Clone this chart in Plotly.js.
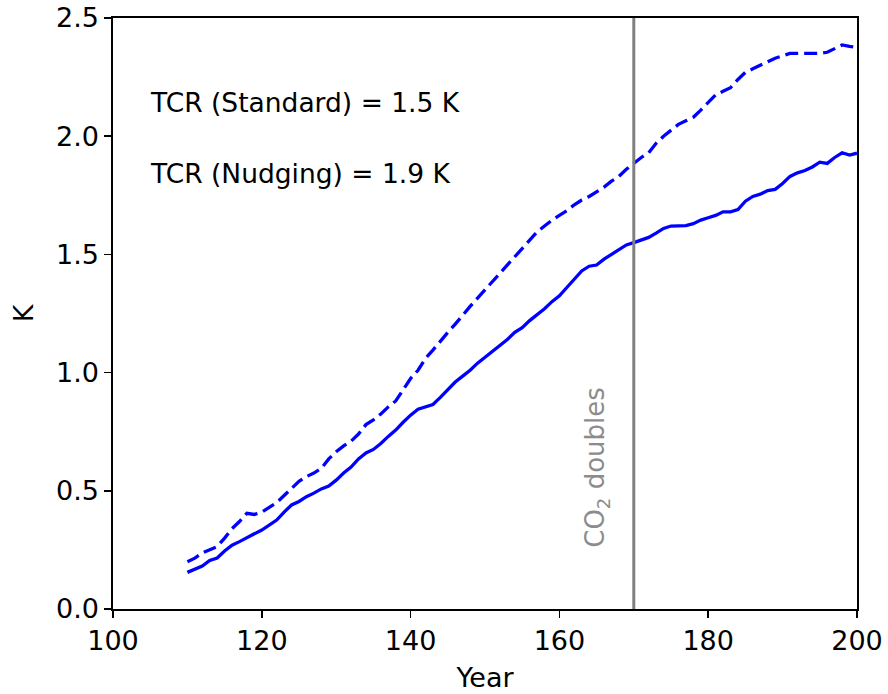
<!DOCTYPE html>
<html>
<head>
<meta charset="utf-8">
<script src="https://cdn.plot.ly/plotly-3.0.1.min.js"></script>
<style>html,body{margin:0;padding:0;background:#fff;}#chart{width:888px;height:694px;}</style>
</head>
<body>
<div id="chart"></div>
<script>
const years = [110,111,112,113,114,115,116,117,118,119,120,121,122,123,124,125,126,127,128,129,130,131,132,133,134,135,136,137,138,139,140,141,142,143,144,145,146,147,148,149,150,151,152,153,154,155,156,157,158,159,160,161,162,163,164,165,166,167,168,169,170,171,172,173,174,175,176,177,178,179,180,181,182,183,184,185,186,187,188,189,190,191,192,193,194,195,196,197,198,199,200];

const standard = [0.155,0.168,0.182,0.205,0.216,0.245,0.27,0.285,0.30,0.318,0.334,0.355,0.376,0.41,0.44,0.455,0.475,0.49,0.508,0.52,0.545,0.575,0.60,0.635,0.66,0.675,0.70,0.73,0.757,0.79,0.82,0.845,0.855,0.865,0.895,0.93,0.96,0.985,1.01,1.04,1.065,1.09,1.115,1.14,1.17,1.19,1.22,1.245,1.27,1.30,1.325,1.36,1.395,1.43,1.45,1.455,1.48,1.50,1.52,1.54,1.55,1.56,1.572,1.59,1.61,1.62,1.622,1.622,1.63,1.645,1.655,1.665,1.68,1.68,1.69,1.725,1.745,1.755,1.77,1.775,1.80,1.83,1.845,1.855,1.87,1.89,1.885,1.91,1.93,1.92,1.928];

const nudging = [0.20,0.215,0.237,0.25,0.264,0.30,0.34,0.37,0.405,0.40,0.41,0.43,0.45,0.48,0.51,0.54,0.56,0.575,0.595,0.635,0.665,0.69,0.71,0.74,0.78,0.80,0.825,0.855,0.88,0.93,0.975,1.01,1.06,1.095,1.135,1.17,1.205,1.245,1.28,1.315,1.35,1.385,1.42,1.455,1.49,1.525,1.565,1.595,1.62,1.645,1.665,1.685,1.71,1.73,1.745,1.765,1.785,1.81,1.83,1.86,1.886,1.91,1.93,1.97,2.00,2.025,2.05,2.065,2.08,2.11,2.145,2.175,2.19,2.205,2.24,2.27,2.285,2.30,2.315,2.33,2.34,2.35,2.35,2.35,2.35,2.35,2.355,2.37,2.386,2.38,2.376];

const doublingYear = 170;
const xTicks = [100,120,140,160,180,200];
const yTicks = [0.0,0.5,1.0,1.5,2.0,2.5];
const yTickText = ['0.0','0.5','1.0','1.5','2.0','2.5'];
const tcrLabels = ['TCR (Standard) = 1.5 K','TCR (Nudging) = 1.9 K'];
const co2Label = 'CO<sub>2</sub> doubles';

const FONT = 'DejaVu Sans, sans-serif';

const traces = [
  {x: years, y: standard, type: 'scatter', mode: 'lines',
   line: {color: '#0000ff', width: 3.3}, showlegend: false, hoverinfo: 'skip'},
  {x: years, y: nudging, type: 'scatter', mode: 'lines',
   line: {color: '#0000ff', width: 3.3, dash: '13px,6px'}, showlegend: false, hoverinfo: 'skip'}
];

const layout = {
  width: 888, height: 694,
  margin: {l: 113, r: 31, t: 18, b: 85},
  paper_bgcolor: '#ffffff', plot_bgcolor: '#ffffff',
  font: {family: FONT, size: 27, color: '#000'},
  xaxis: {
    range: [100, 200], tickvals: xTicks, ticktext: xTicks.map(String),
    showgrid: false, zeroline: false, showline: true, mirror: true,
    linecolor: '#000', linewidth: 1.6, ticks: 'outside', ticklen: 7, tickwidth: 1.6, tickcolor: '#000',
    tickfont: {family: FONT, size: 27, color: '#000'},
    title: {text: 'Year', font: {family: FONT, size: 27, color: '#000'}, standoff: 13}
  },
  yaxis: {
    range: [0, 2.5], tickvals: yTicks, ticktext: yTickText,
    showgrid: false, zeroline: false, showline: true, mirror: true,
    linecolor: '#000', linewidth: 1.6, ticks: 'outside', ticklen: 7, tickwidth: 1.6, tickcolor: '#000',
    tickfont: {family: FONT, size: 27, color: '#000'},
    title: {text: 'K', font: {family: FONT, size: 27, color: '#000'}, standoff: 14}
  },
  shapes: [
    {type: 'line', xref: 'x', yref: 'paper', x0: doublingYear, x1: doublingYear, y0: 0, y1: 1,
     line: {color: '#808080', width: 3}}
  ],
  annotations: [
    {xref: 'paper', yref: 'paper', x: (148 - 113) / 744, y: (609 - 103) / 591, xanchor: 'left', yanchor: 'middle',
     text: tcrLabels[0], showarrow: false, font: {family: FONT, size: 26.5, color: '#000'}},
    {xref: 'paper', yref: 'paper', x: (148 - 113) / 744, y: (609 - 173) / 591, xanchor: 'left', yanchor: 'middle',
     text: tcrLabels[1], showarrow: false, font: {family: FONT, size: 26.5, color: '#000'}},
    {xref: 'x', yref: 'y', x: 165, y: 0.6, xanchor: 'center', yanchor: 'middle', textangle: -90,
     text: co2Label, showarrow: false, font: {family: FONT, size: 26, color: '#8c8c8c'}}
  ]
};

Plotly.newPlot('chart', traces, layout, {staticPlot: true, displayModeBar: false});
</script>
</body>
</html>
